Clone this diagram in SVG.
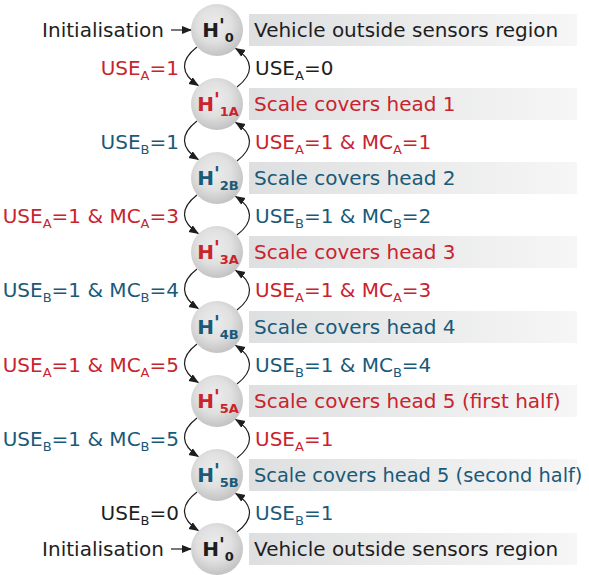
<svg xmlns="http://www.w3.org/2000/svg" width="589" height="575" viewBox="0 0 589 575">
  <defs>
    <radialGradient id="ball" cx="45%" cy="40%" r="60%">
      <stop offset="0" stop-color="#ececec"/>
      <stop offset="0.55" stop-color="#e0e0e0"/>
      <stop offset="1" stop-color="#c3c3c3"/>
    </radialGradient>
    <linearGradient id="band" x1="0" y1="0" x2="1" y2="0">
      <stop offset="0" stop-color="#dedfe0"/>
      <stop offset="1" stop-color="#f6f6f6"/>
    </linearGradient>
    <marker id="arr" markerUnits="userSpaceOnUse" markerWidth="10" markerHeight="10" viewBox="0 0 10 10" refX="10" refY="5" orient="auto">
      <path d="M0,1 L10,5 L0,9 Z" fill="#1e1e1e"/>
    </marker>
  </defs>
  <style>
    text { font-family: "DejaVu Sans", "Liberation Sans", sans-serif; font-size: 20px; }
    .dk { fill: #1e1e1e; }
    .rd { fill: #c9232d; }
    .bl { fill: #195a78; }
    .sub { font-size: 13px; }
    .nl { font-weight: bold; font-size: 20px; }
    .ns { font-size: 13px; }
    .pr { font-size: 19px; }
    .band { fill: url(#band); }
    .ball { fill: url(#ball); }
    .edge { fill: none; stroke: #1e1e1e; stroke-width: 1.2; marker-end: url(#arr); }
  </style>

  <!-- description bands -->
  <g id="bands">
    <rect class="band" x="249" y="14" width="328" height="32"/>
    <rect class="band" x="249" y="88" width="328" height="32"/>
    <rect class="band" x="249" y="162" width="328" height="32"/>
    <rect class="band" x="249" y="236" width="328" height="32"/>
    <rect class="band" x="249" y="311" width="328" height="32"/>
    <rect class="band" x="249" y="385" width="328" height="32"/>
    <rect class="band" x="249" y="459" width="328" height="32"/>
    <rect class="band" x="249" y="533" width="328" height="32"/>
  </g>

  <!-- connectors -->
  <g id="connectors">
    <path class="edge" d="M171,30 L192,30"/>
    <path class="edge" d="M171,549 L192,549"/>
    <!-- downward (left) arcs -->
    <path class="edge" d="M197,47 C180,60 180,74 199,86"/>
    <path class="edge" d="M197,121 C180,134 180,148 199,160"/>
    <path class="edge" d="M197,195 C180,208 180,222 199,234"/>
    <path class="edge" d="M197,269 C180,282 180,297 199,309"/>
    <path class="edge" d="M197,344 C180,357 180,371 199,383"/>
    <path class="edge" d="M197,418 C180,431 180,445 199,457"/>
    <path class="edge" d="M197,492 C180,505 180,519 199,531"/>
    <!-- upward (right) arcs -->
    <path class="edge" d="M237,87 C254,74 254,60 235,48"/>
    <path class="edge" d="M237,161 C254,148 254,134 235,122"/>
    <path class="edge" d="M237,235 C254,222 254,208 235,196"/>
    <path class="edge" d="M237,310 C254,297 254,282 235,270"/>
    <path class="edge" d="M237,384 C254,371 254,357 235,345"/>
    <path class="edge" d="M237,458 C254,445 254,431 235,419"/>
    <path class="edge" d="M237,532 C254,519 254,505 235,493"/>
  </g>

  <!-- states: H with prime and subscript -->
  <g id="s0">
    <circle class="ball" cx="217" cy="30" r="26"/>
    <text class="nl dk" x="218" y="37" text-anchor="middle">H<tspan class="pr" dy="-5">'</tspan><tspan class="ns" dy="10">0</tspan></text>
    <text class="dk" x="254" y="37">Vehicle outside sensors region</text>
  </g>
  <g id="s1a">
    <circle class="ball" cx="217" cy="104" r="26"/>
    <text class="nl rd" x="218" y="111" text-anchor="middle">H<tspan class="pr" dy="-5">'</tspan><tspan class="ns" dy="10">1A</tspan></text>
    <text class="rd" x="254" y="111">Scale covers head 1</text>
  </g>
  <g id="s2b">
    <circle class="ball" cx="217" cy="178" r="26"/>
    <text class="nl bl" x="218" y="185" text-anchor="middle">H<tspan class="pr" dy="-5">'</tspan><tspan class="ns" dy="10">2B</tspan></text>
    <text class="bl" x="254" y="185">Scale covers head 2</text>
  </g>
  <g id="s3a">
    <circle class="ball" cx="217" cy="252" r="26"/>
    <text class="nl rd" x="218" y="259" text-anchor="middle">H<tspan class="pr" dy="-5">'</tspan><tspan class="ns" dy="10">3A</tspan></text>
    <text class="rd" x="254" y="259">Scale covers head 3</text>
  </g>
  <g id="s4b">
    <circle class="ball" cx="217" cy="327" r="26"/>
    <text class="nl bl" x="218" y="334" text-anchor="middle">H<tspan class="pr" dy="-5">'</tspan><tspan class="ns" dy="10">4B</tspan></text>
    <text class="bl" x="254" y="334">Scale covers head 4</text>
  </g>
  <g id="s5a">
    <circle class="ball" cx="217" cy="401" r="26"/>
    <text class="nl rd" x="218" y="408" text-anchor="middle">H<tspan class="pr" dy="-5">'</tspan><tspan class="ns" dy="10">5A</tspan></text>
    <text class="rd" x="254" y="408">Scale covers head 5 (first half)</text>
  </g>
  <g id="s5b">
    <circle class="ball" cx="217" cy="475" r="26"/>
    <text class="nl bl" x="218" y="482" text-anchor="middle">H<tspan class="pr" dy="-5">'</tspan><tspan class="ns" dy="10">5B</tspan></text>
    <text class="bl" x="254" y="482" style="font-size:19.4px">Scale covers head 5 (second half)</text>
  </g>
  <g id="s0b">
    <circle class="ball" cx="217" cy="549" r="26"/>
    <text class="nl dk" x="218" y="556" text-anchor="middle">H<tspan class="pr" dy="-5">'</tspan><tspan class="ns" dy="10">0</tspan></text>
    <text class="dk" x="254" y="556">Vehicle outside sensors region</text>
  </g>

  <!-- initialisation and transition labels -->
  <g id="labels">
    <text class="dk" x="164" y="37" text-anchor="end">Initialisation</text>
    <text class="dk" x="164" y="556" text-anchor="end">Initialisation</text>

    <text class="rd" x="179" y="75" text-anchor="end">USE<tspan class="sub" dy="5">A</tspan><tspan dy="-5">=1</tspan></text>
    <text class="bl" x="179" y="149" text-anchor="end">USE<tspan class="sub" dy="5">B</tspan><tspan dy="-5">=1</tspan></text>
    <text class="rd" x="179" y="223" text-anchor="end">USE<tspan class="sub" dy="5">A</tspan><tspan dy="-5">=1 &amp; MC</tspan><tspan class="sub" dy="5">A</tspan><tspan dy="-5">=3</tspan></text>
    <text class="bl" x="179" y="297" text-anchor="end">USE<tspan class="sub" dy="5">B</tspan><tspan dy="-5">=1 &amp; MC</tspan><tspan class="sub" dy="5">B</tspan><tspan dy="-5">=4</tspan></text>
    <text class="rd" x="179" y="372" text-anchor="end">USE<tspan class="sub" dy="5">A</tspan><tspan dy="-5">=1 &amp; MC</tspan><tspan class="sub" dy="5">A</tspan><tspan dy="-5">=5</tspan></text>
    <text class="bl" x="179" y="446" text-anchor="end">USE<tspan class="sub" dy="5">B</tspan><tspan dy="-5">=1 &amp; MC</tspan><tspan class="sub" dy="5">B</tspan><tspan dy="-5">=5</tspan></text>
    <text class="dk" x="179" y="520" text-anchor="end">USE<tspan class="sub" dy="5">B</tspan><tspan dy="-5">=0</tspan></text>

    <text class="dk" x="255" y="75">USE<tspan class="sub" dy="5">A</tspan><tspan dy="-5">=0</tspan></text>
    <text class="rd" x="255" y="149">USE<tspan class="sub" dy="5">A</tspan><tspan dy="-5">=1 &amp; MC</tspan><tspan class="sub" dy="5">A</tspan><tspan dy="-5">=1</tspan></text>
    <text class="bl" x="255" y="223">USE<tspan class="sub" dy="5">B</tspan><tspan dy="-5">=1 &amp; MC</tspan><tspan class="sub" dy="5">B</tspan><tspan dy="-5">=2</tspan></text>
    <text class="rd" x="255" y="297">USE<tspan class="sub" dy="5">A</tspan><tspan dy="-5">=1 &amp; MC</tspan><tspan class="sub" dy="5">A</tspan><tspan dy="-5">=3</tspan></text>
    <text class="bl" x="255" y="372">USE<tspan class="sub" dy="5">B</tspan><tspan dy="-5">=1 &amp; MC</tspan><tspan class="sub" dy="5">B</tspan><tspan dy="-5">=4</tspan></text>
    <text class="rd" x="255" y="446">USE<tspan class="sub" dy="5">A</tspan><tspan dy="-5">=1</tspan></text>
    <text class="bl" x="255" y="520">USE<tspan class="sub" dy="5">B</tspan><tspan dy="-5">=1</tspan></text>
  </g>
</svg>
